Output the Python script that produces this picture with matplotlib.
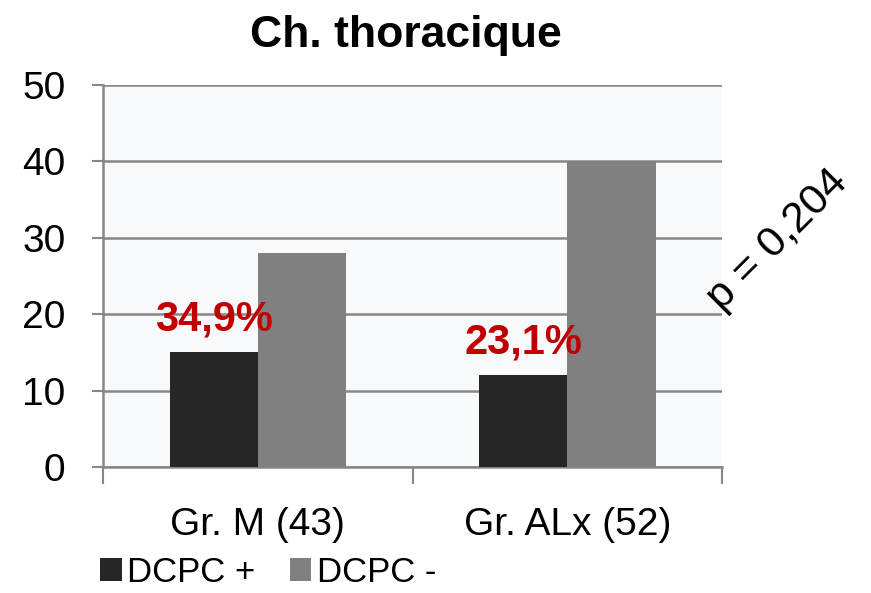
import matplotlib
matplotlib.use("Agg")
import matplotlib.pyplot as plt
import numpy as np

plt.rcParams['font.family'] = ['Liberation Sans', 'DejaVu Sans']

categories = ['Gr. M (43)', 'Gr. ALx (52)']
dcpc_pos = [15, 12]
dcpc_neg = [28, 40]
pct_labels = ['34,9%', '23,1%']
series_names = ['DCPC +', 'DCPC -']
title = 'Ch. thoracique'
p_text = 'p = 0,204'

fig = plt.figure(figsize=(8.71, 5.93), dpi=100)
ax = fig.add_axes([0.1183, 0.2125, 0.7107, 0.6442])
ax.set_facecolor('#f8f9fb')

x = np.arange(len(categories))
w = 0.285
ax.bar(x - w / 2, dcpc_pos, w, color='#262626', label=series_names[0], zorder=3)
ax.bar(x + w / 2, dcpc_neg, w, color='#808080', label=series_names[1], zorder=3)

# percentage labels above the dark bars
for xi, v, lab in zip(x, dcpc_pos, pct_labels):
    ax.text(xi - w / 2, v + 4.3, lab, ha='center', va='center',
            fontsize=30, fontweight='bold', color='#c00000', zorder=4)

ax.set_xlim(-0.5, 1.5)
ax.set_ylim(0, 50)
ax.set_yticks(range(0, 51, 10))
ax.yaxis.grid(True, color='#878787', linewidth=1.8, zorder=1)
ax.set_axisbelow(True)

ax.set_xticks([-0.5, 0.5, 1.5])
ax.set_xticklabels([])
ax.set_xticks(x, minor=True)
ax.set_xticklabels(categories, minor=True, fontsize=28)
ax.tick_params(axis='x', which='minor', length=0, pad=29)
ax.tick_params(axis='x', which='major', length=12, width=1.5, color='#878787')
ax.tick_params(axis='y', length=8, width=1.5, color='#878787', labelsize=28, pad=19)

for s in ['top', 'right']:
    ax.spines[s].set_visible(False)
for s in ['left', 'bottom']:
    ax.spines[s].set_color('#878787')
    ax.spines[s].set_linewidth(1.8)

fig.suptitle(title, fontsize=32, fontweight='bold', x=0.466, y=0.975)

fig.text(0.893, 0.595, p_text, fontsize=31, rotation=45,
         ha='center', va='center')

fig.legend(loc='lower left', bbox_to_anchor=(0.095, -0.022), ncol=2, frameon=False,
           fontsize=25, handlelength=0.62, handleheight=0.62, borderpad=0,
           handletextpad=0.15, columnspacing=1.0)

fig.savefig('out.png', dpi=100)
